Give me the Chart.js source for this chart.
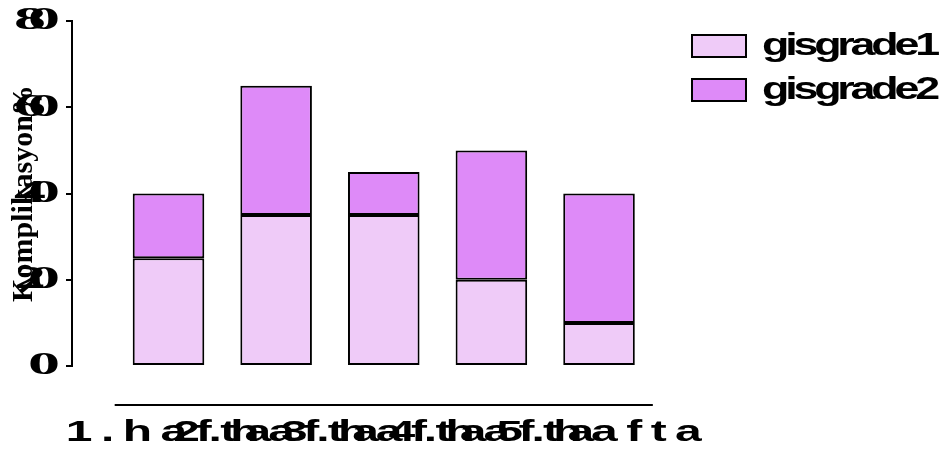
<!DOCTYPE html>
<html>
<head>
<meta charset="utf-8">
<script src="https://cdn.jsdelivr.net/npm/chart.js@4.4.1/dist/chart.umd.min.js"></script>
<style>
  html, body { margin: 0; padding: 0; background: #ffffff; }
  #wrap { width: 945px; height: 450px; }
</style>
</head>
<body>
<div id="wrap"><canvas id="c" width="945" height="450"></canvas></div>
<script>
// ---- data ----
const categories = ['1.hafta', '2.hafta', '3.hafta', '4.hafta', '5.hafta'];
const seriesNames = ['gisgrade1', 'gisgrade2'];
const grade1 = [25, 35, 35, 20, 10];
const grade2 = [15, 30, 10, 30, 30];
const yTicks = [0, 20, 40, 60, 80];
const yTitle = 'Komplikasyon%';

// ---- text stretching (reproduces the distorted text of the reference) ----
const canvas = document.getElementById('c');
const ctx = canvas.getContext('2d');
const origFill = CanvasRenderingContext2D.prototype.fillText;
const origMeasure = CanvasRenderingContext2D.prototype.measureText;
function styleFor(font) {
  const m = /(\d+(?:\.\d+)?)px/.exec(font);
  const size = m ? parseFloat(m[1]) : 0;
  const serif = font.indexOf('Serif') >= 0;
  if (!serif && size === 30) return { sx: 1.6, ls: 5.3 };                           // x tick labels
  if (!serif && size === 32) return { sx: 1.4, ls: -3, measure: true, pad: 14 };    // legend labels
  if (serif && size === 32) return { sx: 2.0, ls: -9 };                             // y tick labels
  return null;
}
ctx.measureText = function (text) {
  const st = styleFor(this.font);
  if (!st || !st.measure) return origMeasure.call(this, text);
  const chars = Array.from(String(text));
  const sum = chars.reduce((a, c) => a + origMeasure.call(this, c).width, 0);
  return { width: st.sx * (sum + st.ls * (chars.length - 1)) + st.pad };
};
ctx.fillText = function (text, x, y) {
  const st = styleFor(this.font);
  if (!st) return origFill.call(this, text, x, y);
  const chars = Array.from(String(text));
  const widths = chars.map(c => origMeasure.call(this, c).width);
  const total = widths.reduce((a, b) => a + b, 0) + st.ls * (chars.length - 1);
  const align = this.textAlign;
  let cx = align === 'center' ? -total / 2 : (align === 'right' || align === 'end') ? -total : 0;
  this.save();
  this.translate(x, y);
  this.scale(st.sx, 1);
  this.textAlign = 'left';
  chars.forEach((c, i) => { origFill.call(this, c, cx, 0); cx += widths[i] + st.ls; });
  this.restore();
};

// ---- detached x-axis line (offset axis as in the reference) ----
const xAxisLine = {
  id: 'xAxisLine',
  afterDraw(chart) {
    const { ctx, chartArea, scales } = chart;
    const x = scales.x;
    const y = chartArea.bottom + 39;
    ctx.save();
    ctx.strokeStyle = '#000000';
    ctx.lineWidth = 2;
    ctx.beginPath();
    ctx.moveTo(x.getPixelForValue(0.5), y);
    ctx.lineTo(x.getPixelForValue(categories.length + 0.5), y);
    ctx.stroke();
    ctx.restore();
  }
};

const toPoints = arr => arr.map((v, i) => ({ x: i + 1, y: v }));

new Chart(ctx, {
  type: 'bar',
  data: {
    datasets: [
      { label: seriesNames[0], data: toPoints(grade1), backgroundColor: '#EFCBF8', borderColor: '#000000', borderWidth: 2, borderSkipped: false },
      { label: seriesNames[1], data: toPoints(grade2), backgroundColor: '#DE8AF8', borderColor: '#000000', borderWidth: 2, borderSkipped: false }
    ]
  },
  options: {
    responsive: false,
    devicePixelRatio: 1,
    animation: false,
    categoryPercentage: 1.0,
    barPercentage: 0.665,
    layout: { padding: { top: 18, right: 0, bottom: 0, left: 0 } },
    plugins: {
      tooltip: { enabled: false },
      legend: {
        position: 'right',
        align: 'start',
        maxWidth: 265,
        labels: {
          boxWidth: 54,
          boxHeight: 22,
          padding: 12,
          color: '#000000',
          font: { family: 'Liberation Sans', size: 32, weight: 'bold', lineHeight: 1 }
        }
      }
    },
    scales: {
      x: {
        type: 'linear',
        stacked: true,
        offset: false,
        min: 0.1034,
        max: 5.7524,
        afterFit: s => { s.height = 84; },
        grid: { display: false, drawTicks: false },
        border: { display: false },
        ticks: {
          stepSize: 1,
          includeBounds: false,
          autoSkip: false,
          maxRotation: 0,
          minRotation: 0,
          padding: 52,
          color: '#000000',
          font: { family: 'Liberation Sans', size: 30, weight: 'bold', lineHeight: 1 },
          callback: v => (Number.isInteger(v) && categories[v - 1] !== undefined) ? categories[v - 1] : ''
        }
      },
      y: {
        stacked: true,
        min: yTicks[0],
        max: yTicks[yTicks.length - 1],
        afterBuildTicks: scale => { scale.ticks = yTicks.map(v => ({ value: v })); },
        afterFit: s => { s.width = 72; },
        grid: { display: true, drawOnChartArea: false, drawTicks: true, tickLength: 6, color: '#000000', lineWidth: 2 },
        border: { display: true, color: '#000000', width: 2 },
        ticks: {
          padding: 6,
          color: '#000000',
          font: { family: 'Liberation Serif', size: 32, weight: 'bold', lineHeight: 0.94 }
        },
        title: {
          display: true,
          text: yTitle,
          color: '#000000',
          padding: { top: 9, bottom: 0 },
          font: { family: 'Liberation Serif', size: 30, weight: 'bold', lineHeight: 1 }
        }
      }
    }
  },
  plugins: [xAxisLine]
});
</script>
</body>
</html>
